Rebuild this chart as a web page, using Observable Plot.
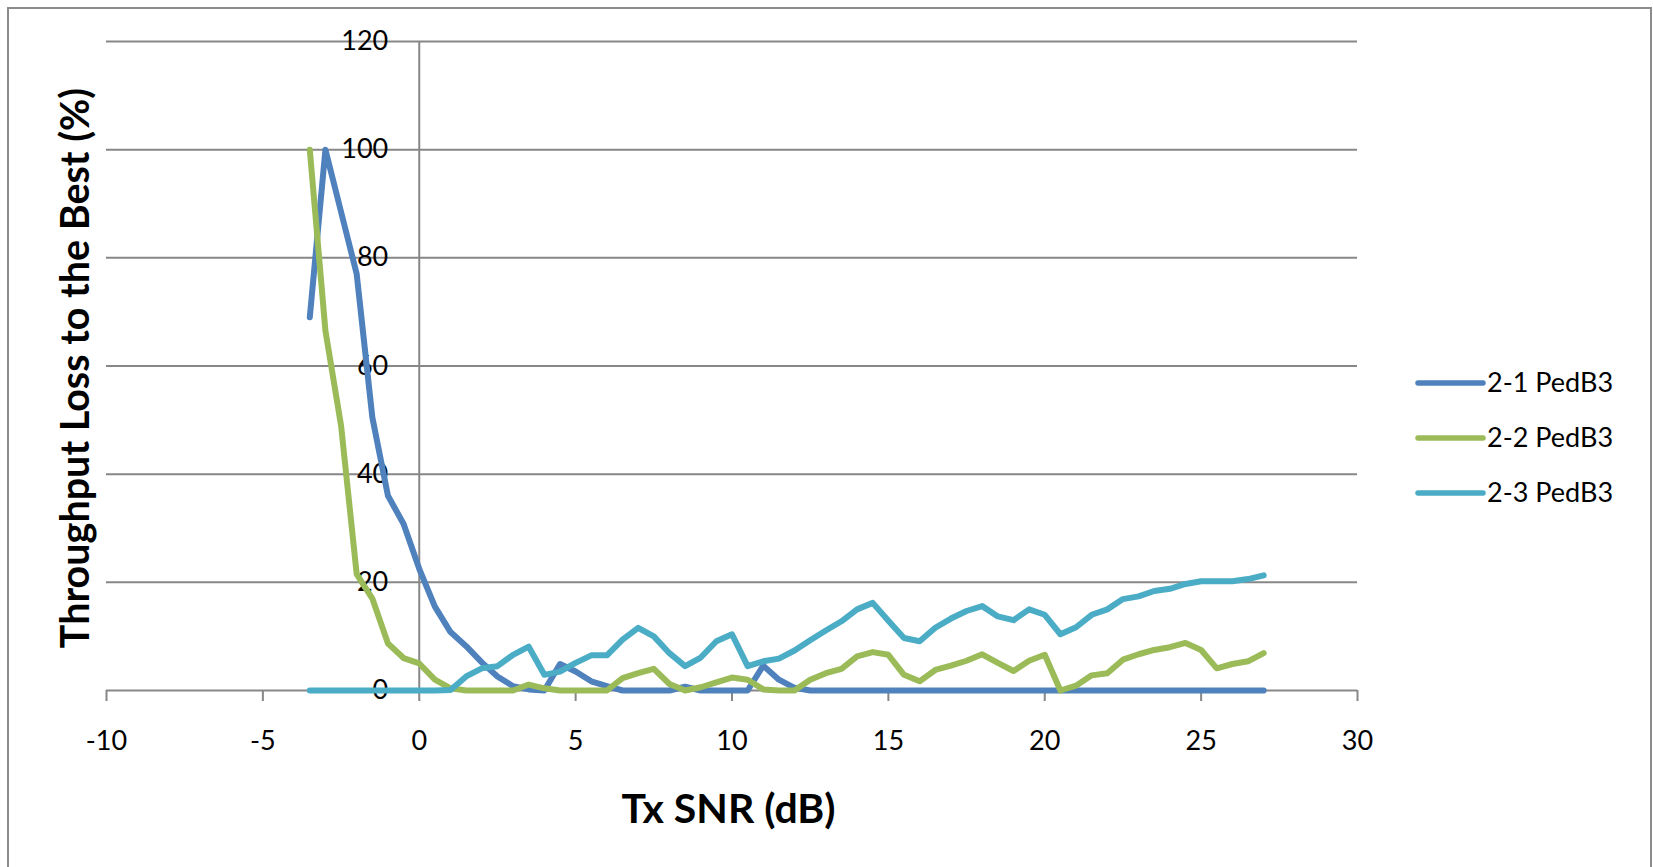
<!DOCTYPE html>
<html>
<head>
<meta charset="utf-8">
<script src="https://cdn.jsdelivr.net/npm/d3@7"></script>
<script src="https://cdn.jsdelivr.net/npm/@observablehq/plot@0.6"></script>
<style>
  html, body { margin: 0; padding: 0; background: #fff; }
  #chart { position: relative; width: 1653px; height: 867px; overflow: hidden; }
</style>
</head>
<body>
<div id="chart"></div>
<script>
const snr = [-3.5, -3, -2.5, -2, -1.5, -1, -0.5, 0, 0.5, 1, 1.5, 2, 2.5, 3, 3.5, 4,
  4.5, 5, 5.5, 6, 6.5, 7, 7.5, 8, 8.5, 9, 9.5, 10, 10.5, 11, 11.5, 12,
  12.5, 13, 13.5, 14, 14.5, 15, 15.5, 16, 16.5, 17, 17.5, 18, 18.5, 19, 19.5, 20,
  20.5, 21, 21.5, 22, 22.5, 23, 23.5, 24, 24.5, 25, 25.5, 26, 26.5, 27];

const s21 = [69, 100, 88.5, 77, 50.5, 36, 30.8, 22.5, 15.5, 10.8, 8.2, 5.2, 2.6, 0.8, 0.2, 0,
  4.9, 3.5, 1.7, 0.8, 0, 0, 0, 0, 0.7, 0, 0, 0, 0, 4.6, 2, 0.5,
  0, 0, 0, 0, 0, 0, 0, 0, 0, 0, 0, 0, 0, 0, 0, 0,
  0, 0, 0, 0, 0, 0, 0, 0, 0, 0, 0, 0, 0, 0];

const s22 = [100, 66.5, 49, 21.5, 17, 8.7, 6, 5, 2, 0.4, 0, 0, 0, 0, 1.1, 0.4,
  0, 0, 0, 0, 2.3, 3.2, 4, 1.2, 0, 0.6, 1.5, 2.4, 2, 0.2, 0, 0,
  2, 3.2, 4, 6.3, 7.1, 6.6, 2.9, 1.7, 3.8, 4.6, 5.5, 6.7, 5.1, 3.6, 5.5, 6.6,
  0, 0.9, 2.8, 3.2, 5.7, 6.7, 7.5, 8, 8.8, 7.5, 4.1, 4.9, 5.4, 6.9];

const s23 = [0, 0, 0, 0, 0, 0, 0, 0, 0, 0.1, 2.6, 4.1, 4.5, 6.6, 8.1, 2.9,
  3.5, 5.1, 6.5, 6.5, 9.4, 11.6, 10, 6.9, 4.5, 6.1, 9.1, 10.4, 4.5, 5.4, 5.9, 7.4,
  9.3, 11.1, 12.8, 15, 16.2, 12.9, 9.7, 9.1, 11.6, 13.3, 14.7, 15.6, 13.7, 13, 15, 14,
  10.4, 11.7, 14, 15, 16.9, 17.4, 18.4, 18.8, 19.7, 20.2, 20.2, 20.2, 20.6, 21.3];

const seriesNames = ["2-1 PedB3", "2-2 PedB3", "2-3 PedB3"];
const seriesColors = ["#4F81BD", "#9BBB59", "#4BACC6"];
const xTicks = [-10, -5, 0, 5, 10, 15, 20, 25, 30];
const yTicks = [0, 20, 40, 60, 80, 100, 120];
const xTitle = "Tx SNR (dB)";
const yTitle = "Throughput Loss to the Best (%)";

const seriesValues = [s21, s22, s23];
const rows = [];
seriesNames.forEach((name, i) => {
  snr.forEach((x, j) => rows.push({series: name, x, y: seriesValues[i][j]}));
});

const gridColor = "#878787";
const font = "Lato, 'Open Sans', sans-serif";

const svg = Plot.plot({
  width: 1653,
  height: 867,
  marginLeft: 106,
  marginRight: 296,
  marginTop: 41,
  marginBottom: 177,
  style: {fontFamily: font, fontSize: "27px", color: "#000", background: "#fff", overflow: "visible"},
  x: {domain: [-10, 30], axis: null},
  y: {domain: [0, 120], axis: null},
  color: {domain: seriesNames, range: seriesColors},
  marks: [
    Plot.gridY(yTicks, {stroke: gridColor, strokeOpacity: 1, strokeWidth: 2}),
    Plot.ruleX([0], {y1: 0, y2: 120, stroke: gridColor, strokeWidth: 2}),
    Plot.axisX(xTicks, {tickSize: 11, tickPadding: 29, stroke: gridColor, strokeWidth: 2, fontSize: 27, label: null, tickFormat: d => String(d)}),
    Plot.text(yTicks, {x: 0, y: d => d, text: d => String(d), dx: -31, textAnchor: "end", fontSize: 27, fill: "#000"}),
    Plot.line(rows, {x: "x", y: "y", z: "series", stroke: "series", strokeWidth: 6, strokeLinecap: "round", strokeLinejoin: "round"}),
    Plot.text([xTitle], {frameAnchor: "bottom", dy: 132, dx: -3.5, textAnchor: "middle", fontSize: 41, fontWeight: "bold", fill: "#000"}),
    Plot.text([yTitle], {frameAnchor: "left", rotate: -90, dx: -30, dy: 2, textAnchor: "middle", fontSize: 39.5, fontWeight: "bold", fill: "#000"})
  ]
});

const sel = d3.select(svg);
sel.insert("rect", ":first-child")
  .attr("x", 8).attr("y", 8).attr("width", 1643).attr("height", 900)
  .attr("fill", "none").attr("stroke", "#8c8c8c").attr("stroke-width", 2);

const colorScale = svg.scale("color");
const legend = sel.append("g").attr("font-family", font).attr("font-size", 27).attr("text-anchor", "start");
const legendY = [383, 438, 493];
seriesNames.forEach((name, i) => {
  legend.append("line")
    .attr("x1", 1418).attr("x2", 1483).attr("y1", legendY[i]).attr("y2", legendY[i])
    .attr("stroke", colorScale.apply(name)).attr("stroke-width", 5.5).attr("stroke-linecap", "round");
  legend.append("text")
    .attr("x", 1487).attr("y", legendY[i]).attr("dy", "0.35em")
    .attr("text-anchor", "start")
    .attr("fill", "#000").text(name);
});

document.getElementById("chart").appendChild(svg);
</script>
</body>
</html>
